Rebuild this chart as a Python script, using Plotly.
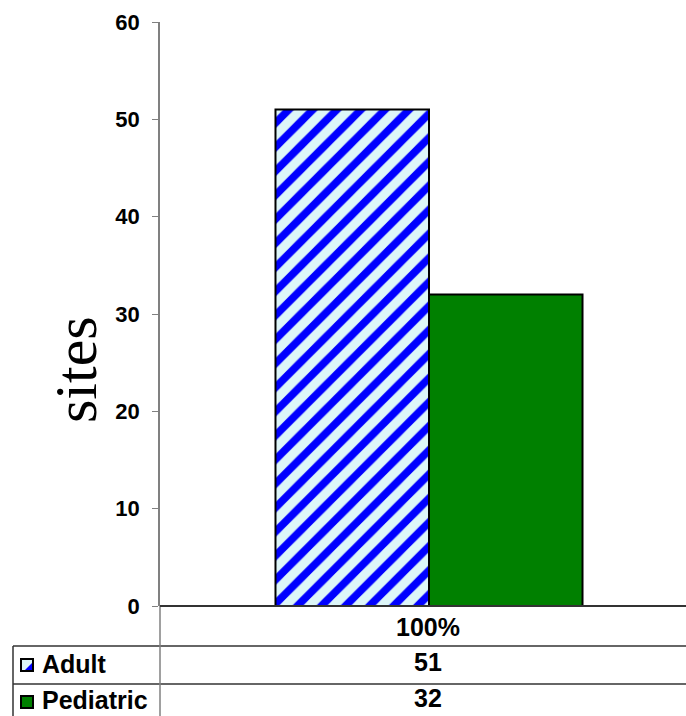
import plotly.graph_objects as go

# Data
category = ["100%"]
series_names = ["Adult", "Pediatric"]
adult_values = [51]
pediatric_values = [32]
y_ticks = [0, 10, 20, 30, 40, 50, 60]

W, H = 686, 716
ML, MR, MT, MB = 160, 0, 22, 110
PW, PH = W - ML - MR, H - MT - MB


def px_x(x):
    return (x - ML) / PW


def px_y(y):
    return (H - MB - y) / PH


fig = go.Figure()
fig.add_trace(go.Bar(
    x=[0], y=adult_values, name=series_names[0],
    marker=dict(
        color="#DDF6F8",
        line=dict(color="black", width=2),
        pattern=dict(shape="/", fgcolor="#0000FF", bgcolor="#DDF6F8",
                     fgopacity=1, size=17, solidity=0.45, fillmode="overlay"),
    ),
))
fig.add_trace(go.Bar(
    x=[0], y=pediatric_values, name=series_names[1],
    marker=dict(color="#008000", line=dict(color="black", width=2)),
))

shapes = []
annotations = []
line_col = "#333333"
# table grid
for yy in (646, 684):
    shapes.append(dict(type="line", xref="paper", yref="paper",
                       x0=px_x(13), x1=1, y0=px_y(yy), y1=px_y(yy),
                       line=dict(color=line_col, width=1.5)))
shapes.append(dict(type="line", xref="paper", yref="paper",
                   x0=px_x(13), x1=px_x(13), y0=px_y(646), y1=px_y(716),
                   line=dict(color=line_col, width=1.5)))
shapes.append(dict(type="line", xref="paper", yref="paper",
                   x0=0, x1=0, y0=0, y1=px_y(716),
                   line=dict(color="#808080", width=1.5)))
# baseline
shapes.append(dict(type="line", xref="paper", yref="paper",
                   x0=0, x1=1, y0=0, y1=0,
                   line=dict(color=line_col, width=2)))

cat_centre = px_x(428)
table_font = dict(family="Liberation Sans", size=25, color="black")

# category label row
annotations.append(dict(text="<b>%s</b>" % category[0], xref="paper", yref="paper",
                        x=cat_centre, y=px_y(627), yanchor="middle", showarrow=False,
                        font=table_font))

# series rows with legend keys
row_centres = [664, 700]
row_values = [adult_values[0], pediatric_values[0]]
for name, val, yc in zip(series_names, row_values, row_centres):
    annotations.append(dict(text="<b>%s</b>" % name, xref="paper", yref="paper",
                            x=px_x(40), y=px_y(yc), xanchor="left", yanchor="middle",
                            showarrow=False, font=table_font))
    annotations.append(dict(text="<b>%d</b>" % val, xref="paper", yref="paper",
                            x=cat_centre, y=px_y(yc - 2), yanchor="middle",
                            showarrow=False, font=table_font))

# legend key: Adult (light square with blue diagonal)
k0, k1 = 21, 33
ky0, ky1 = 659, 671
shapes.append(dict(type="rect", xref="paper", yref="paper",
                   x0=px_x(k0), x1=px_x(k1), y0=px_y(ky1), y1=px_y(ky0),
                   fillcolor="#DDF6F8", line=dict(width=0)))
shapes.append(dict(type="path", xref="paper", yref="paper",
                   path="M %f %f L %f %f L %f %f Z" % (
                       px_x(k1), px_y(ky0 + 3), px_x(k1), px_y(ky1),
                       px_x(k0 + 3), px_y(ky1)),
                   fillcolor="#0000FF", line=dict(width=0)))
shapes.append(dict(type="rect", xref="paper", yref="paper",
                   x0=px_x(k0), x1=px_x(k1), y0=px_y(ky1), y1=px_y(ky0),
                   line=dict(color="black", width=2)))
# legend key: Pediatric
ky0, ky1 = 696, 708
shapes.append(dict(type="rect", xref="paper", yref="paper",
                   x0=px_x(k0), x1=px_x(k1), y0=px_y(ky1), y1=px_y(ky0),
                   fillcolor="#008000", line=dict(color="black", width=2)))

# axis title
annotations.append(dict(text="sites", xref="paper", yref="paper",
                        x=px_x(76), y=px_y(370), textangle=-90, showarrow=False,
                        xanchor="center", yanchor="middle",
                        font=dict(family="Liberation Serif", size=60, color="black")))

shift = 6 / PW
fig.update_layout(
    width=W, height=H,
    margin=dict(l=ML, r=MR, t=MT, b=MB),
    paper_bgcolor="white", plot_bgcolor="white",
    barmode="group", bargap=0.4163, bargroupgap=0,
    showlegend=False,
    shapes=shapes, annotations=annotations,
    xaxis=dict(range=[-0.5 - shift, 0.5 - shift], showticklabels=False,
               showline=False, showgrid=False, zeroline=False, ticks=""),
    yaxis=dict(range=[0, 60], tickvals=y_ticks, showgrid=False, zeroline=False,
               showline=True, linecolor="#808080", linewidth=1.5,
               ticks="outside", ticklen=6, tickcolor="#808080",
               ticklabelstandoff=8,
               tickfont=dict(family="Liberation Sans", size=22, color="black",
                             weight="bold")),
)

fig.write_html("out.html")
